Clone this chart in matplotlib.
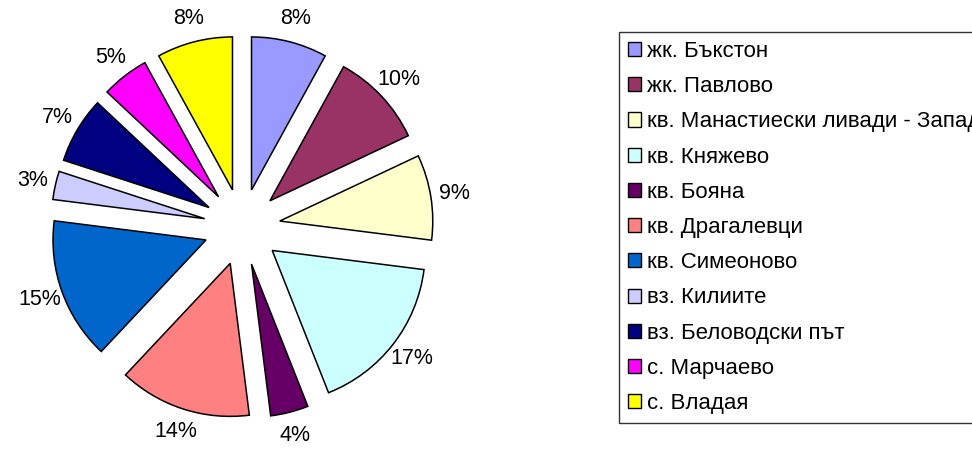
import matplotlib
matplotlib.use("Agg")
import matplotlib.pyplot as plt
from matplotlib.patches import Rectangle

plt.rcParams["font.family"] = ["Liberation Sans", "DejaVu Sans"]

labels = ["жк. Бъкстон", "жк. Павлово", "кв. Манастиески ливади - Запад",
          "кв. Княжево", "кв. Бояна", "кв. Драгалевци", "кв. Симеоново",
          "вз. Килиите", "вз. Беловодски път", "с. Марчаево", "с. Владая"]
shares = [8, 10, 9, 17, 4, 14, 15, 3, 7, 5, 8]
colors = ["#9999FF", "#993366", "#FFFFCC", "#CCFFFF", "#660066", "#FF8080",
          "#0066CC", "#CCCCFF", "#000080", "#FF00FF", "#FFFF00"]

W, H = 972, 449
fig = plt.figure(figsize=(W / 100, H / 100), dpi=100)

# pie centre ~ (242, 227) px, radius ~153 px
r_px = 153
L = 1.45
side = 2 * L * r_px
cx, cy = 242, H - 227
ax = fig.add_axes([(cx - side / 2) / W, (cy - side / 2) / H, side / W, side / H])

wedges, texts, autotexts = ax.pie(
    shares, colors=colors, explode=[0.25] * len(shares), startangle=90,
    counterclock=False, autopct="%1.0f%%", pctdistance=1.155,
    wedgeprops=dict(edgecolor="black", linewidth=1.1),
    textprops=dict(fontsize=15.5, color="black"))
# pie() resets the limits, so set them afterwards
ax.set_xlim(-L, L); ax.set_ylim(-L, L)
ax.set_aspect("equal")
ax.axis("off")

handles = [Rectangle((0, 0), 1, 1, facecolor=c, edgecolor="black", linewidth=1.0)
           for c in colors]
leg = fig.legend(handles, labels, loc="upper left",
                 bbox_to_anchor=(619 / W, 1 - 32 / H),
                 fontsize=16, frameon=True, fancybox=False,
                 edgecolor="black", borderpad=0.4, handlelength=0.6,
                 handleheight=0.6, handletextpad=0.25, labelspacing=0.64,
                 borderaxespad=0)
leg.get_frame().set_linewidth(1.0)

fig.savefig("out.png", dpi=100)
